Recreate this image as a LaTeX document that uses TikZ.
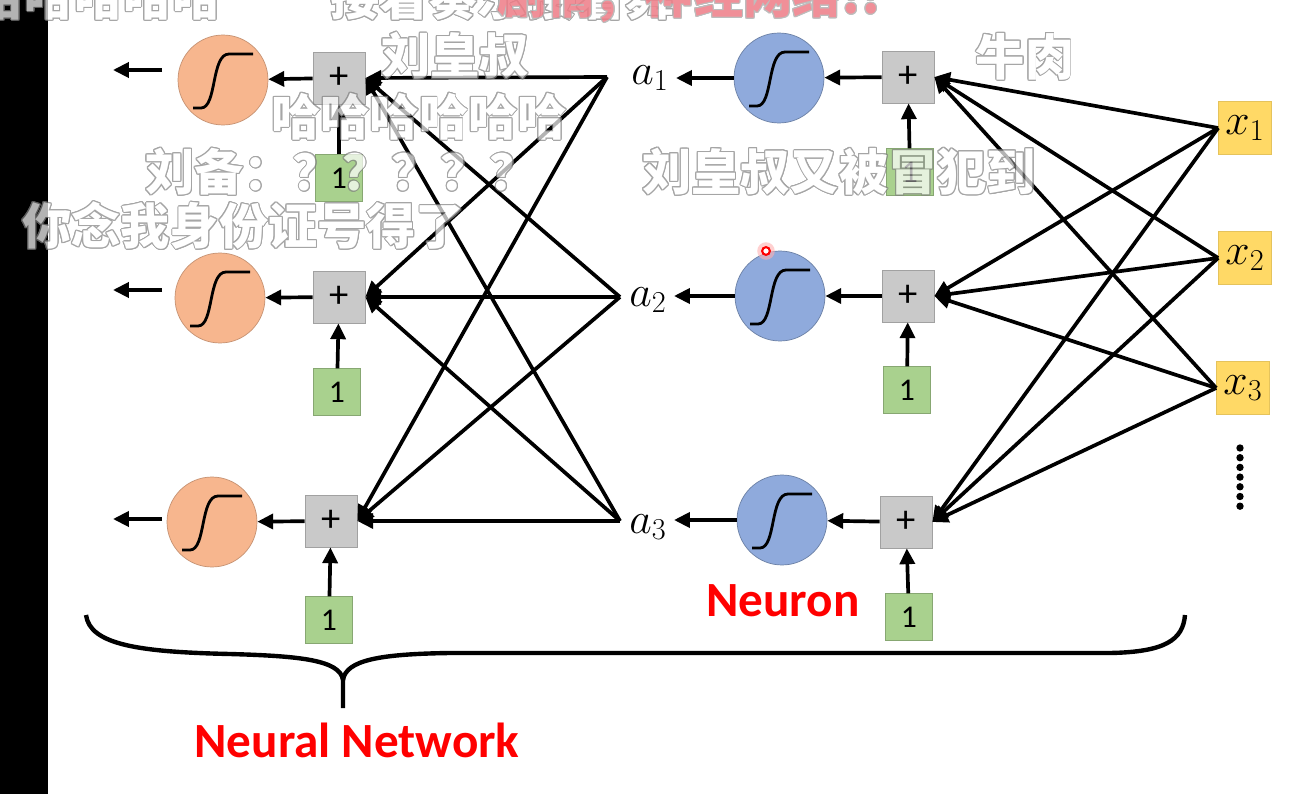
\documentclass[tikz,border=0pt]{standalone}
\usepackage{fontspec}
\setmainfont{Carlito}
\newfontfamily\cjk{Noto Sans CJK SC}
\usepackage[copies]{contour}
\contourlength{0.55pt}
\contournumber{16}
\usetikzlibrary{arrows.meta,positioning}
\definecolor{sigorange}{HTML}{F7B68E}
\definecolor{sigblue}{HTML}{8FAADC}
\definecolor{boxgray}{HTML}{C9C9C9}
\definecolor{onegreen}{HTML}{A9D18E}
\definecolor{inyellow}{HTML}{FFD966}
\definecolor{dmpink}{HTML}{EE7C86}
\begin{document}
\begin{tikzpicture}[x=0.02cm,y=-0.02cm,
  arr/.style={line width=2.1pt,-{Triangle[length=9pt,width=8.5pt]}},
  sigL/.style={circle,fill=sigorange,draw=sigorange!80!black,line width=0.4pt,minimum size=1.8cm,inner sep=0pt},
  sigR/.style={circle,fill=sigblue,draw=sigblue!75!black,line width=0.4pt,minimum size=1.8cm,inner sep=0pt},
  plusbox/.style={draw=boxgray!80!black,fill=boxgray,line width=0.4pt,minimum size=1.04cm,inner sep=0pt,font=\fontsize{22}{22}\selectfont},
  onebox/.style={draw=onegreen!80!black,fill=onegreen,line width=0.4pt,minimum size=0.93cm,inner sep=0pt,font=\fontsize{18}{18}\selectfont},
  inbox/.style={draw=inyellow!90!black,fill=inyellow,line width=0.4pt,minimum size=1.06cm,inner sep=0pt,font=\fontsize{25}{25}\selectfont},
  curve/.style={line width=1.6pt},
  dm/.style={font=\cjk\bfseries\fontsize{28}{30}\selectfont,text=white,inner sep=0pt},
  red label/.style={font=\bfseries\fontsize{28}{30}\selectfont,text=red}]
\useasboundingbox (0,0) rectangle (1302,794);
\clip (0,0) rectangle (1302,794);
\fill[white] (48,0) rectangle (1302,794);
\fill[black] (0,0) rectangle (48,794);

% left layer
\foreach \i/\sx/\sy/\px/\py/\bx/\by/\oy in {1/223/80/339/78/339/178/70,2/220/298/339/297/337/392/290,3/212/522/331/521/329/620/519}{
  \node[sigL] (sL\i) at (\sx,\sy) {};
  \node[plusbox] (pL\i) at (\px,\py) {+};
  \node[onebox] (bL\i) at (\bx,\by) {1};
  \coordinate (oL\i s) at (162,\oy);
  \coordinate (oL\i) at (113,\oy);
}
% right layer
\foreach \i/\sx/\sy/\px/\py/\bx/\by/\ax/\ay in {1/779/78/908/77/910/172/650/78,2/780/296/908/296/907/390/648/300,3/782/520/906/522/909/617/648/527}{
  \node[sigR] (sR\i) at (\sx,\sy) {};
  \node[plusbox] (pR\i) at (\px,\py) {+};
  \node[onebox] (bR\i) at (\bx,\by) {1};
  \node[inner sep=4pt,font=\fontsize{27}{28}\selectfont] (a\i) at (\ax,\ay) {$a_\i$};
}
\coordinate (c1) at (607,77);
\coordinate (c2) at (620,297);
\coordinate (c3) at (620,521);
\node[inbox] (x1) at (1245,128) {$x_1$};
\node[inbox] (x2) at (1245,258) {$x_2$};
\node[inbox] (x3) at (1243,388) {$x_3$};
\foreach \k in {0,...,6}
  \fill (1240,448+\k*9.7) circle [radius=2.1pt];

\foreach \i in {1,2,3}{
  \draw[curve,shift={(sL\i)}] (-30,28) -- (-22,28) .. controls (-6,28) and (-12,-26) .. (6,-26) -- (30,-26);
  \draw[curve,shift={(sR\i)}] (-30,28) -- (-22,28) .. controls (-6,28) and (-12,-26) .. (6,-26) -- (30,-26);
  \draw[arr] (pL\i) -- (sL\i);
  \draw[arr] (bL\i) -- (pL\i);
  \draw[arr] (oL\i s) -- (oL\i);
  \draw[arr] (pR\i) -- (sR\i);
  \draw[arr] (bR\i) -- (pR\i);
  \draw[arr] (sR\i.west) -- (sR\i.west -| a\i.east);
}
\foreach \j in {1,2,3}
  \foreach \i in {1,2,3}{
    \draw[arr] (c\j) -- (pL\i.east);
    \draw[arr] (x\j.west) -- (pR\i.east);
  }

% brace
\draw[line width=2.5pt] (86,615) .. controls (90,645) and (140,652) .. (230,654)
  .. controls (300,656) and (340,660) .. (343,680) -- (343,708);
\draw[line width=2.5pt] (343,680) .. controls (346,660) and (380,654) .. (450,653)
  -- (1110,653) .. controls (1165,652) and (1183,640) .. (1185,615);
\node[red label] (net) at (357,740) {Neural Network};
\node[red label] (neuron) at (783,601) {Neuron};

% cursor
\fill[red!30,opacity=0.6] (766,251) circle [radius=5pt];
\draw[red,line width=1.2pt,fill=white] (766,251) circle [radius=2.2pt];

% bullet comments
\begin{scope}[transparency group,opacity=0.7]
\node[dm,anchor=east] (d0) at (222,-3) {\contour{black!50}{哈哈哈哈哈哈}};
\node[dm,anchor=west] (d1) at (330,-3) {\contour{black!50}{接着奏乐接着舞}};
\node[dm] (d2) at (455,56) {\contour{black!50}{刘皇叔}};
\node[dm] (d3) at (1025,57) {\contour{black!50}{牛肉}};
\node[dm] (d4) at (419,117) {\contour{black!50}{哈哈哈哈哈哈}};
\node[dm,anchor=west] (d5) at (145,172) {\contour{black!50}{刘备：？？？？？}};
\node[dm,anchor=west] (d6) at (642,172) {\contour{black!50}{刘皇叔又被冒犯到}};
\node[dm,anchor=west] (d7) at (22,226) {\contour{black!50}{你念我身份证号得了}};
\end{scope}
\begin{scope}[transparency group,opacity=0.85]
\node[dm,anchor=west,text=dmpink] (d8) at (497,-3) {\contour{white!70!black}{剧情；神经网络!!}};
\end{scope}
\end{tikzpicture}
\end{document}
